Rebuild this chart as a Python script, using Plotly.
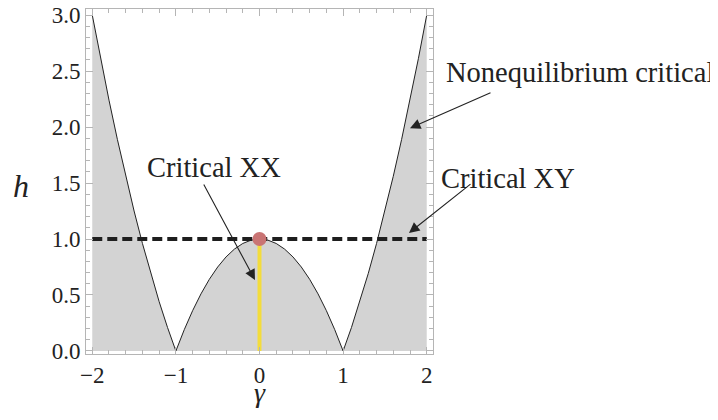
import plotly.graph_objects as go

# boundary curve
gamma = [-2.0, -1.9, -1.8, -1.7, -1.6, -1.5, -1.4, -1.3, -1.2, -1.1, -1.0,
         -0.9, -0.8, -0.7, -0.6, -0.5, -0.4, -0.3, -0.2, -0.1, 0.0,
         0.1, 0.2, 0.3, 0.4, 0.5, 0.6, 0.7, 0.8, 0.9, 1.0,
         1.1, 1.2, 1.3, 1.4, 1.5, 1.6, 1.7, 1.8, 1.9, 2.0]
h_curve = [3.0, 2.61, 2.24, 1.89, 1.56, 1.25, 0.96, 0.69, 0.44, 0.21, 0.0,
           0.19, 0.36, 0.51, 0.64, 0.75, 0.84, 0.91, 0.96, 0.99, 1.0,
           0.99, 0.96, 0.91, 0.84, 0.75, 0.64, 0.51, 0.36, 0.19, 0.0,
           0.21, 0.44, 0.69, 0.96, 1.25, 1.56, 1.89, 2.24, 2.61, 3.0]

xy_gamma = [-2.0, 2.0]
xy_h = [1.0, 1.0]
xx_gamma = [0.0, 0.0]
xx_h = [0.0, 1.0]
point_gamma = [0.0]
point_h = [1.0]

FONT = "Liberation Serif"

fig = go.Figure()
fig.add_trace(go.Scatter(x=gamma, y=h_curve, mode='lines', fill='tozeroy',
                         fillcolor='#d3d3d3', line=dict(color='#222222', width=1)))
fig.add_trace(go.Scatter(x=xy_gamma, y=xy_h, mode='lines',
                         line=dict(color='#1e1e1e', width=4, dash='10px,5px')))
fig.add_trace(go.Scatter(x=xx_gamma, y=xx_h, mode='lines',
                         line=dict(color='#f3dc3c', width=4)))
fig.add_trace(go.Scatter(x=point_gamma, y=point_h, mode='markers',
                         marker=dict(color='#c97474', size=14)))

axis_common = dict(
    showgrid=False, zeroline=False, showline=True, linecolor='#b5b5b5', linewidth=1,
    mirror='ticks', ticks='inside', ticklen=7, tickcolor='#b5b5b5', automargin=False,
    ticklabeloverflow='allow',
    tickfont=dict(family=FONT, size=23, color='#222222'),
)
fig.update_xaxes(range=[-2.075, 2.075], tickvals=[-2, -1, 0, 1, 2],
                 minor=dict(dtick=0.2, ticks='inside', ticklen=4, tickcolor='#b5b5b5'),
                 **axis_common)
fig.update_yaxes(range=[-0.027, 3.054], dtick=0.5, tick0=0, tickformat='.1f',
                 minor=dict(dtick=0.1, ticks='inside', ticklen=4, tickcolor='#b5b5b5'),
                 **axis_common)

txt = dict(family=FONT, size=28.5, color='#222222')
arrow = dict(showarrow=True, arrowhead=2, arrowsize=1.9, arrowwidth=1.1, arrowcolor='#222222',
             text='', xref='x', yref='y')
label = dict(showarrow=False, xref='paper', yref='paper', xanchor='center', yanchor='middle')
fig.update_layout(
    # the page body adds 8px on each side, so the figure is a bit smaller to fit the window
    width=710, height=404, margin=dict(l=78, r=285, t=1, b=58),
    plot_bgcolor='white', paper_bgcolor='white', showlegend=False,
    annotations=[
        dict(x=-0.054, y=0.634, ax=-52, ay=-97, **arrow),
        dict(x=1.80, y=1.99, ax=82, ay=-36, **arrow),
        dict(x=1.788, y=1.054, ax=63, ay=-50, **arrow),
        dict(text='Critical XX', x=0.369, y=0.542, font=txt, **label),
        dict(text='Nonequilibrium critical', x=1.4236, y=0.817, font=txt, **label),
        dict(text='Critical XY', x=1.216, y=0.51, font=txt, **label),
        dict(text='<i>h</i>', x=-0.187, y=0.487,
             font=dict(family=FONT, size=32, color='#222222'), **label),
        dict(text='<i>γ</i>', x=0.5, y=-0.112,
             font=dict(family=FONT, size=28, color='#222222'), **label),
    ],
)

fig.write_html("out.html")
